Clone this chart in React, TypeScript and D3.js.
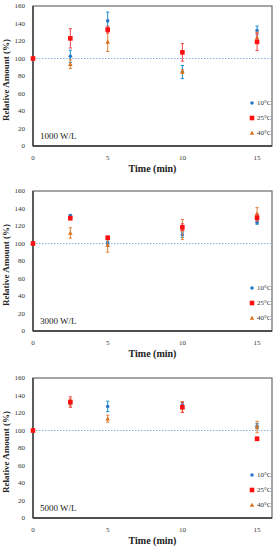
import React from 'react';
import * as d3 from 'd3';

// ── Data ──────────────────────────────────────────────────────────────────────
const TIMES = [0, 2.5, 5, 10, 15];
const X_TICKS = [0, 5, 10, 15];
const Y_TICKS = [0, 20, 40, 60, 80, 100, 120, 140, 160];
const SERIES_NAMES = ['10°C', '25°C', '40°C'];
const PANEL_LABELS = ['1000 W/L', '3000 W/L', '5000 W/L'];

// means / errors per panel, in order 10°C, 25°C, 40°C (null = no point)
const P1_10 = [100, 102.5, 143, 84.5, 132];
const P1_10_ERR = [0, 7, 10, 7.5, 5];
const P1_25 = [100, 123, 133, 107, 119];
const P1_25_ERR = [0, 11, 4, 10, 10];
const P1_40 = [100, 93.5, 119, 85, 124];
const P1_40_ERR = [0, 5, 11, 2, 6];

const P2_10 = [100, 132, 100.5, 110, 124];
const P2_10_ERR = [0, 1, 2, 3, 2];
const P2_25 = [100, 129, 106.5, 118.5, 129.5];
const P2_25_ERR = [0, 2, 2, 4, 4];
const P2_40 = [100, 112, 98, 116, 134];
const P2_40_ERR = [0, 6, 8, 11.5, 7];

const P3_10 = [100, 132, 127.5, 129.5, 105];
const P3_10_ERR = [0, 2, 6, 2.5, 3];
const P3_25: (number | null)[] = [100, 132.5, null, 126.5, 90.5];
const P3_25_ERR = [0, 6, 0, 6, 2];
const P3_40 = [100, 132, 113.5, 127, 104];
const P3_40_ERR = [0, 4, 4, 6, 6.5];

const PANELS = [
  { label: PANEL_LABELS[0], series: [[P1_10, P1_10_ERR], [P1_25, P1_25_ERR], [P1_40, P1_40_ERR]] },
  { label: PANEL_LABELS[1], series: [[P2_10, P2_10_ERR], [P2_25, P2_25_ERR], [P2_40, P2_40_ERR]] },
  { label: PANEL_LABELS[2], series: [[P3_10, P3_10_ERR], [P3_25, P3_25_ERR], [P3_40, P3_40_ERR]] },
];

// ── Styling ───────────────────────────────────────────────────────────────────
const FONT = '"Liberation Serif", "DejaVu Serif", serif';
const MARK_COLORS = ['#2a78c6', '#ff1010', '#d8731f'];
const ERR_COLORS = ['#1a8fd0', '#f04848', '#e0803a'];
const DRAW_ORDER = [0, 2, 1]; // red squares end up on top

const PANEL_OFFSETS = [0, 185, 372];
const M = { left: 33, right: 272, top: 6, bottom: 146 };

const Marker: React.FC<{ idx: number; x: number; y: number }> = ({ idx, x, y }) => {
  const c = MARK_COLORS[idx];
  if (idx === 0) return <circle cx={x} cy={y} r={1.8} fill={c} />;
  if (idx === 1) return <rect x={x - 2.3} y={y - 2.3} width={4.6} height={4.6} fill={c} />;
  const s = 2.3;
  return <path d={`M${x},${y - s}L${x + s},${y + s * 0.8}L${x - s},${y + s * 0.8}Z`} fill={c} />;
};

const Panel: React.FC<{ offset: number; panel: typeof PANELS[number] }> = ({ offset, panel }) => {
  const x = d3.scaleLinear().domain([0, 16]).range([M.left, M.right]);
  const y = d3.scaleLinear().domain([0, 160]).range([offset + M.bottom, offset + M.top]);
  const midX = (M.left + M.right) / 2;

  return (
    <g>
      {/* frame */}
      <rect x={M.left} y={offset + M.top} width={M.right - M.left} height={M.bottom - M.top}
        fill="#fff" stroke="#6a6a6a" strokeWidth={1.2} />
      <line x1={M.left} x2={M.left} y1={offset + M.top} y2={offset + M.bottom} stroke="#333" strokeWidth={1.3} />
      <line x1={M.left} x2={M.right} y1={offset + M.bottom} y2={offset + M.bottom} stroke="#333" strokeWidth={1.3} />

      {/* 100% reference line */}
      <line x1={x(0)} x2={M.right} y1={y(100)} y2={y(100)} stroke="#8fb3d8" strokeWidth={1} strokeDasharray="1.5,1.5" />

      {/* y ticks */}
      {Y_TICKS.map(t => (
        <text key={t} x={25} y={y(t)} dy="0.35em" textAnchor="end" fontSize={7} fill="#333" fontFamily={FONT}>{t}</text>
      ))}
      {/* x ticks */}
      {X_TICKS.map(t => (
        <text key={t} x={x(t)} y={offset + M.bottom + 14} textAnchor="middle" fontSize={7} fill="#333" fontFamily={FONT}>{t}</text>
      ))}

      {/* points + error bars */}
      {DRAW_ORDER.map(si => {
        const [vals, errs] = panel.series[si] as [(number | null)[], number[]];
        return (
          <g key={si}>
            {TIMES.map((t, i) => {
              const v = vals[i];
              if (v == null) return null;
              const e = errs[i];
              const cx = x(t);
              return (
                <g key={i}>
                  {e > 0 && (
                    <g stroke={ERR_COLORS[si]} strokeWidth={1}>
                      <line x1={cx} x2={cx} y1={y(v - e)} y2={y(v + e)} />
                      <line x1={cx - 1.6} x2={cx + 1.6} y1={y(v - e)} y2={y(v - e)} />
                      <line x1={cx - 1.6} x2={cx + 1.6} y1={y(v + e)} y2={y(v + e)} />
                    </g>
                  )}
                  <Marker idx={si} x={cx} y={y(v)} />
                </g>
              );
            })}
          </g>
        );
      })}

      {/* legend */}
      {SERIES_NAMES.map((n, i) => (
        <g key={n}>
          <Marker idx={i} x={252} y={offset + 103 + i * 15} />
          <text x={257} y={offset + 103 + i * 15} dy="0.35em" fontSize={7} fill="#333" fontFamily={FONT}>{n}</text>
        </g>
      ))}

      {/* panel label */}
      <text x={40} y={offset + 139} fontSize={9} fill="#222" fontFamily={FONT}>{panel.label}</text>

      {/* axis titles */}
      <text x={midX} y={offset + M.bottom + 26} textAnchor="middle" fontSize={10} fontWeight="bold" fill="#222" fontFamily={FONT}>Time (min)</text>
      <text transform={`translate(9,${offset + 80}) rotate(-90)`} textAnchor="middle" fontSize={9} fontWeight="bold" fill="#222" fontFamily={FONT}>Relative Amount (%)</text>
    </g>
  );
};

export default function App() {
  return (
    <svg width={277} height={550} style={{ position: 'absolute', left: 0, top: 0, background: '#fff' }}>
      {PANELS.map((p, i) => (
        <Panel key={i} offset={PANEL_OFFSETS[i]} panel={p} />
      ))}
    </svg>
  );
}
